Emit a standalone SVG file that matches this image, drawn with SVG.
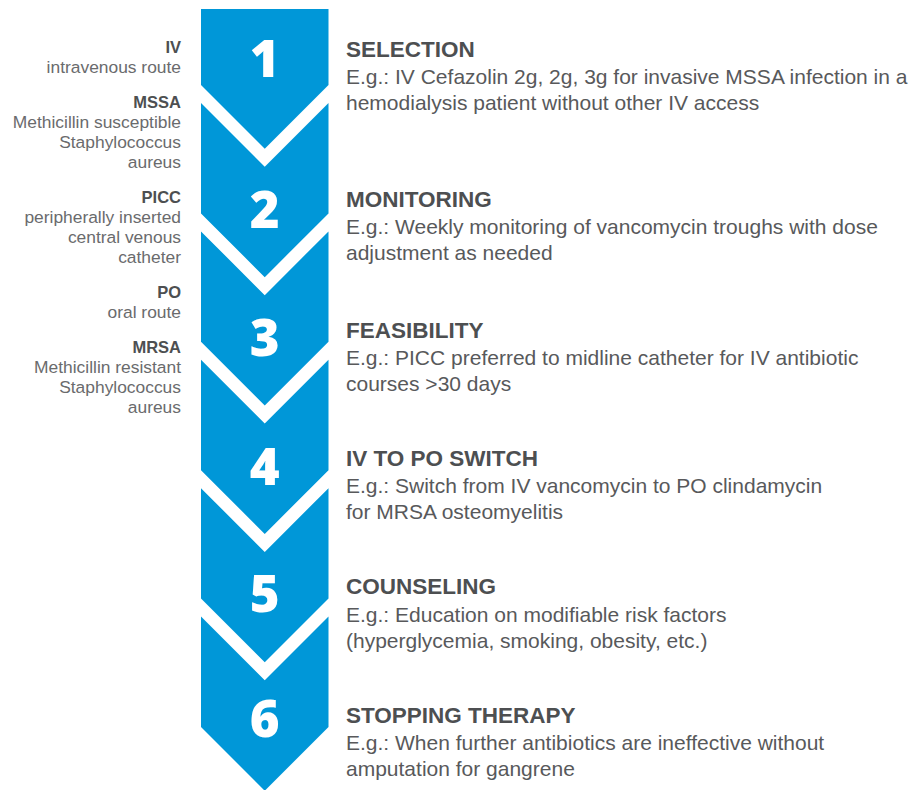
<svg xmlns="http://www.w3.org/2000/svg" width="921" height="790" viewBox="0 0 921 790">
<style>
.step{fill:#0097d8}
.num{font-family:"Open Sans","Liberation Sans",sans-serif;font-weight:800;font-size:51px;fill:#ffffff;text-anchor:middle}
.h{font-family:"Liberation Sans",Arial,sans-serif;font-weight:700;font-size:22.5px;fill:#4d4f51}
.b{font-family:"Liberation Sans",Arial,sans-serif;font-size:21px;fill:#58595b}
.lh{font-family:"Liberation Sans",Arial,sans-serif;font-weight:700;font-size:16.5px;fill:#4d4f51;text-anchor:end}
.lb{font-family:"Liberation Sans",Arial,sans-serif;font-size:17.4px;fill:#6a6b6d;text-anchor:end}
</style>
<rect width="921" height="790" fill="#ffffff"/>
<g id="step1">
<path class="step" d="M201,9 H328.5 V85 L264.75,148.75 L201,85 Z"/>
<text class="num" x="264.75" y="77">1</text>
<text class="h" x="346" y="57">SELECTION</text>
<text class="b" x="346" y="84">E.g.: IV Cefazolin 2g, 2g, 3g for invasive MSSA infection in a</text>
<text class="b" x="346" y="110">hemodialysis patient without other IV access</text>
</g>
<g id="step2">
<path class="step" d="M201,103 L264.75,166.75 L328.5,103 V213.4 L264.75,277.15 L201,213.4 Z"/>
<text class="num" x="264.75" y="228">2</text>
<text class="h" x="346" y="207">MONITORING</text>
<text class="b" x="346" y="234">E.g.: Weekly monitoring of vancomycin troughs with dose</text>
<text class="b" x="346" y="260">adjustment as needed</text>
</g>
<g id="step3">
<path class="step" d="M201,231.4 L264.75,295.15 L328.5,231.4 V341.8 L264.75,405.55 L201,341.8 Z"/>
<text class="num" x="264.75" y="356">3</text>
<text class="h" x="346" y="338">FEASIBILITY</text>
<text class="b" x="346" y="365">E.g.: PICC preferred to midline catheter for IV antibiotic</text>
<text class="b" x="346" y="391">courses &gt;30 days</text>
</g>
<g id="step4">
<path class="step" d="M201,359.8 L264.75,423.55 L328.5,359.8 V470.2 L264.75,533.95 L201,470.2 Z"/>
<text class="num" x="264.75" y="485">4</text>
<text class="h" x="346" y="466">IV TO PO SWITCH</text>
<text class="b" x="346" y="493">E.g.: Switch from IV vancomycin to PO clindamycin</text>
<text class="b" x="346" y="519">for MRSA osteomyelitis</text>
</g>
<g id="step5">
<path class="step" d="M201,488.2 L264.75,551.95 L328.5,488.2 V598.6 L264.75,662.35 L201,598.6 Z"/>
<text class="num" x="264.75" y="612">5</text>
<text class="h" x="346" y="594">COUNSELING</text>
<text class="b" x="346" y="622">E.g.: Education on modifiable risk factors</text>
<text class="b" x="346" y="648">(hyperglycemia, smoking, obesity, etc.)</text>
</g>
<g id="step6">
<path class="step" d="M201,616.6 L264.75,680.35 L328.5,616.6 V727 L264.75,790.75 L201,727 Z"/>
<text class="num" x="264.75" y="737">6</text>
<text class="h" x="346" y="723">STOPPING THERAPY</text>
<text class="b" x="346" y="750">E.g.: When further antibiotics are ineffective without</text>
<text class="b" x="346" y="776">amputation for gangrene</text>
</g>
<g id="legend">
<text class="lh" x="181" y="53">IV</text>
<text class="lb" x="181" y="73">intravenous route</text>
<text class="lh" x="181" y="108">MSSA</text>
<text class="lb" x="181" y="128">Methicillin susceptible</text>
<text class="lb" x="181" y="148">Staphylococcus</text>
<text class="lb" x="181" y="168">aureus</text>
<text class="lh" x="181" y="203">PICC</text>
<text class="lb" x="181" y="223">peripherally inserted</text>
<text class="lb" x="181" y="243">central venous</text>
<text class="lb" x="181" y="263">catheter</text>
<text class="lh" x="181" y="298">PO</text>
<text class="lb" x="181" y="318">oral route</text>
<text class="lh" x="181" y="353">MRSA</text>
<text class="lb" x="181" y="373">Methicillin resistant</text>
<text class="lb" x="181" y="393">Staphylococcus</text>
<text class="lb" x="181" y="413">aureus</text>
</g>
<g id="connectors"></g>
</svg>
